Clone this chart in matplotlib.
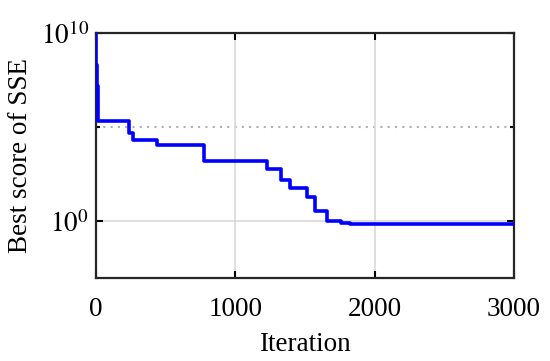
import numpy as np
import matplotlib
matplotlib.use('Agg')
import matplotlib.pyplot as plt
from matplotlib.ticker import FixedLocator, NullFormatter

# convergence curve (step, held until next change)
iteration = [0, 3, 8, 12, 15, 237, 266, 438, 775, 1227, 1328, 1393, 1515,
             1572, 1658, 1760, 1823, 3000]
best_sse = [1e10, 2.0e8, 1.6e7, 2.0e6, 2.1e5, 5.2e4, 2.2e4, 1.2e4, 1.6e3,
            590, 150, 58, 19, 3.4, 1.0, 0.88, 0.76, 0.76]

x_ticks = [0, 1000, 2000, 3000]
y_ticks = [1e0, 1e10]

plt.rcParams['font.family'] = ['Liberation Serif', 'DejaVu Serif']
plt.rcParams['mathtext.fontset'] = 'stix'

fig = plt.figure(figsize=(5.5, 3.61), dpi=100)
ax = fig.add_axes([0.1745, 0.2299, 0.76, 0.6787])

ax.step(iteration, best_sse, where='post', color='#0000ff', lw=2.6, zorder=3)

ax.set_yscale('log')
ax.set_xlim(0, 3000)
ax.set_ylim(1e-3, 1e10)
ax.set_xticks(x_ticks)
ax.set_yticks(y_ticks)
ax.yaxis.set_minor_locator(FixedLocator([1e5]))
ax.yaxis.set_minor_formatter(NullFormatter())
ax.set_yticklabels([r'$10^{0}$', r'$10^{10}$'])

ax.grid(True, which='major', color='#d9d9d9', lw=1.2)
ax.axhline(1e5, color='#b0b0b0', lw=1.5, ls=(0, (1, 2.5)), zorder=1)

ax.tick_params(which='both', direction='in', top=True, right=True,
               labelsize=19.5, width=1.5)
ax.tick_params(axis='x', pad=14)
ax.tick_params(axis='y', pad=5)
ax.tick_params(which='major', length=5)
ax.tick_params(which='minor', length=3)
for s in ax.spines.values():
    s.set_linewidth(1.6)
    s.set_color('#262626')

ax.set_xlabel('Iteration', fontsize=19.5, labelpad=7)
ax.set_ylabel('Best score of SSE', fontsize=19.5, labelpad=6)

fig.savefig('out.png', dpi=100)
